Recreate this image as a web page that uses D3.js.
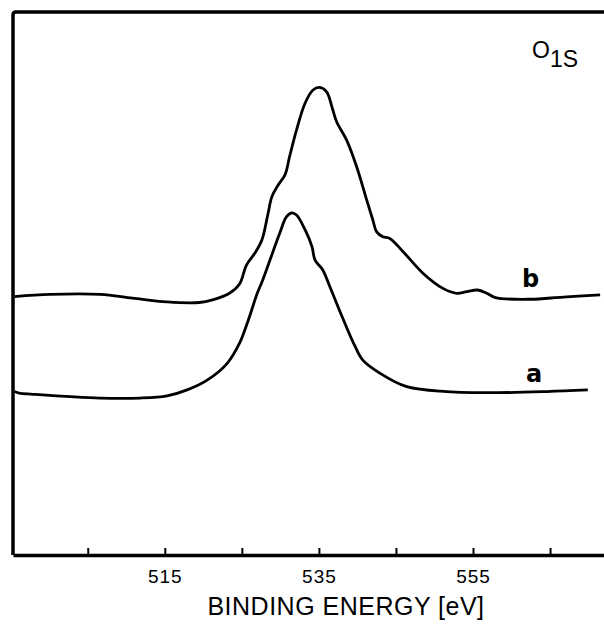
<!DOCTYPE html>
<html>
<head>
<meta charset="utf-8">
<script src="https://cdn.jsdelivr.net/npm/d3@7"></script>
<style>
  body { margin: 0; background: #fff; }
  svg { display: block; }
</style>
</head>
<body>
<div id="chart"></div>
<script>
// O1s spectra, intensity in arbitrary units (0 = axis line)
var energyA = [495.5, 496.1, 497.9, 506.6, 511.8, 515.3, 517.9, 520.5, 523.1, 524.7, 525.8, 527.0, 527.7,
  529.9, 530.8, 531.5, 532.1, 533.2, 534.1, 534.5, 535.5, 536.4, 538.1, 539.7, 540.7, 542.9, 546.4,
  551.6, 558.1, 564.6, 569.9];
var intensityA = [30.1, 29.8, 29.6, 28.9, 28.9, 29.3, 30.4, 32.2, 35.3, 39.0, 43.1, 48.2, 50.6,
  59.2, 62.3, 63.0, 62.6, 59.9, 56.8, 54.3, 52.5, 49.5, 43.6, 38.4, 35.9, 33.5, 31.0,
  30.1, 29.9, 30.1, 30.4];

var energyB = [495.5, 500.1, 506.6, 510.8, 515.3, 519.5, 521.2, 523.4, 524.7, 525.6, 526.7, 527.6, 528.4,
  528.9, 529.7, 530.6, 531.2, 532.1, 533.2, 534.2, 535.1, 536.0, 536.8, 537.3, 538.6, 539.9, 541.2,
  542.0, 542.5, 543.3, 544.2, 545.9, 548.5, 551.1, 552.9, 554.2, 555.6, 556.8, 557.9, 562.4, 566.7, 571.5];
var intensityB = [47.6, 48.0, 48.0, 47.3, 46.6, 46.5, 47.0, 48.2, 49.9, 53.4, 55.6, 58.0, 62.9,
  66.0, 68.1, 70.0, 73.4, 78.3, 83.2, 85.6, 86.1, 85.3, 82.0, 79.8, 76.4, 71.5, 65.4,
  61.7, 59.5, 58.6, 58.3, 55.9, 51.9, 49.1, 48.2, 48.5, 48.8, 48.2, 47.4, 47.1, 47.5, 47.9];

var xTicks = [505, 515, 525, 535, 545, 555, 565];
var xTickLabels = [515, 535, 555];

var width = 604, height = 626;
var plotLeft = 13, plotTop = 12, plotBottom = 555;

var svg = d3.select("#chart").append("svg")
  .attr("width", width)
  .attr("height", height)
  .style("background", "#fff");

var x = d3.scaleLinear().domain([495.3, 572]).range([plotLeft, width]);
var y = d3.scaleLinear().domain([0, 100]).range([plotBottom, plotTop]);

// frame: left and top edges
svg.append("path")
  .attr("d", "M" + plotLeft + "," + plotBottom + " L" + plotLeft + "," + (plotTop + 3) +
    " Q" + plotLeft + "," + plotTop + " " + (plotLeft + 3) + "," + plotTop + " L" + width + "," + plotTop)
  .attr("fill", "none")
  .attr("stroke", "#000")
  .attr("stroke-width", 3.5);

// bottom axis, ticks pointing up
var xAxis = d3.axisBottom(x)
  .tickValues(xTicks)
  .tickSizeInner(-7)
  .tickSizeOuter(0)
  .tickFormat(function (d) { return xTickLabels.indexOf(d) >= 0 ? d : ""; });

var gx = svg.append("g")
  .attr("transform", "translate(0," + plotBottom + ")")
  .call(xAxis);

gx.select(".domain").attr("stroke-width", 3.5);
gx.selectAll(".tick line").attr("stroke-width", 2);
gx.selectAll(".tick text")
  .attr("y", 28)
  .attr("dy", 0)
  .style("font-family", "'Liberation Sans', Arial, sans-serif")
  .style("font-size", "19px")
  .style("letter-spacing", "1px")
  .attr("fill", "#000");

svg.append("text")
  .attr("x", 346)
  .attr("y", 615)
  .attr("text-anchor", "middle")
  .style("font-family", "'Liberation Sans', Arial, sans-serif")
  .style("font-size", "25px")
  .style("letter-spacing", "0.5px")
  .text("BINDING ENERGY [eV]");

// curves
var line = d3.line()
  .x(function (d) { return x(d[0]); })
  .y(function (d) { return y(d[1]); })
  .curve(d3.curveCatmullRom.alpha(0.5));

var seriesA = d3.zip(energyA, intensityA);
var seriesB = d3.zip(energyB, intensityB);

svg.append("path")
  .datum(seriesA)
  .attr("d", line)
  .attr("fill", "none")
  .attr("stroke", "#000")
  .attr("stroke-width", 2.8);

svg.append("path")
  .datum(seriesB)
  .attr("d", line)
  .attr("fill", "none")
  .attr("stroke", "#000")
  .attr("stroke-width", 2.8);

// curve labels
svg.append("text")
  .attr("x", 522)
  .attr("y", 287)
  .style("font-family", "'DejaVu Sans', sans-serif")
  .style("font-size", "24px")
  .style("font-weight", "bold")
  .text("b");

svg.append("text")
  .attr("x", 526)
  .attr("y", 382)
  .style("font-family", "'DejaVu Sans', sans-serif")
  .style("font-size", "24px")
  .style("font-weight", "bold")
  .text("a");

// O1s title with subscript
var title = svg.append("text")
  .attr("x", 532)
  .attr("y", 58)
  .style("font-family", "'Liberation Sans', Arial, sans-serif")
  .style("font-size", "23px");
title.append("tspan").text("O");
title.append("tspan").attr("dy", 9).text("1S");
</script>
</body>
</html>
